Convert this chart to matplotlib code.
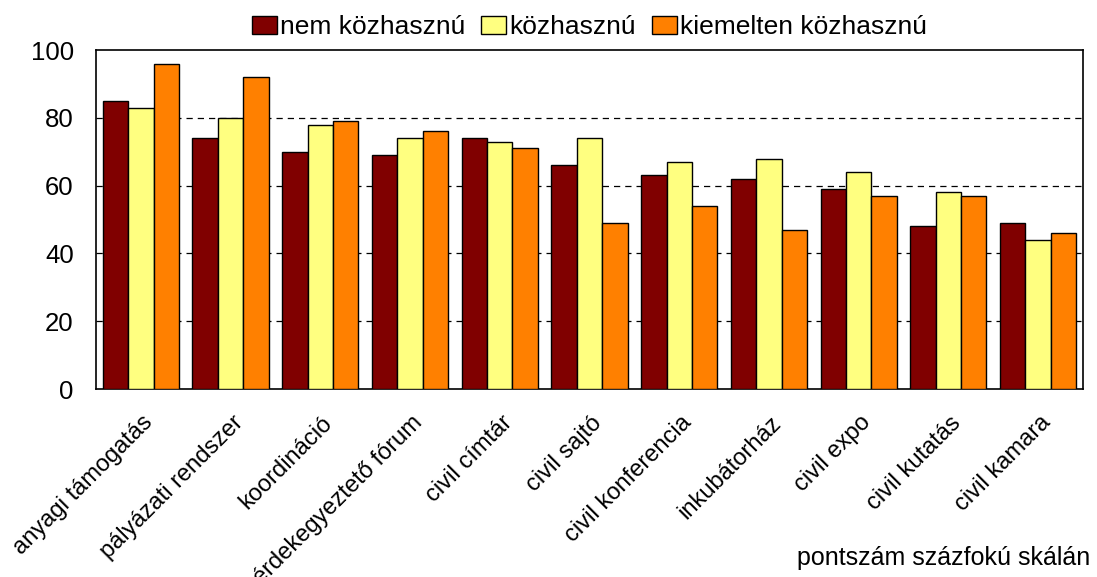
import matplotlib
matplotlib.use("Agg")
import matplotlib.pyplot as plt
import numpy as np

plt.rcParams["font.family"] = ["Liberation Sans", "DejaVu Sans"]

categories = ["anyagi támogatás", "pályázati rendszer", "koordináció",
              "érdekegyeztető fórum", "civil címtár", "civil sajtó",
              "civil konferencia", "inkubátorház", "civil expo",
              "civil kutatás", "civil kamara"]
nem_kozhasznu = [85, 74, 70, 69, 74, 66, 63, 62, 59, 48, 49]
kozhasznu = [83, 80, 78, 74, 73, 74, 67, 68, 64, 58, 44]
kiemelten = [96, 92, 79, 76, 71, 49, 54, 47, 57, 57, 46]
series_names = ["nem közhasznú", "közhasznú", "kiemelten közhasznú"]
colors = ["#800000", "#FFFF80", "#FF8000"]

fig = plt.figure(figsize=(10.97, 5.77), dpi=100)
ax = fig.add_axes([0.0875, 0.3258, 0.8997, 0.5875])

x = np.arange(len(categories))
w = 0.283
for i, (vals, name, c) in enumerate(zip([nem_kozhasznu, kozhasznu, kiemelten],
                                        series_names, colors)):
    ax.bar(x + (i - 1) * w, vals, width=w, color=c, edgecolor="black",
           linewidth=1.0, label=name, zorder=3)

ax.set_xlim(-0.5, len(categories) - 0.5)
ax.set_ylim(0, 100)
ax.set_yticks([0, 20, 40, 60, 80, 100])
ax.tick_params(axis="y", labelsize=18.5, length=0, pad=16)
for y in [20, 40, 60, 80]:
    ax.axhline(y, color="black", linestyle=(0, (5, 4)), linewidth=0.9, zorder=1)

ax.set_xticks(x + 0.1)
ax.set_xticklabels(categories, rotation=45, ha="right", va="center",
                   rotation_mode="anchor", fontsize=17)
ax.tick_params(axis="x", length=0, pad=22)
for s in ax.spines.values():
    s.set_linewidth(1.2)

ax.legend(loc="lower center", bbox_to_anchor=(0.5, 1.0), ncol=3, frameon=False,
          fontsize=19, handlelength=0.95, handleheight=0.7, handletextpad=0.12,
          columnspacing=0.6, borderaxespad=0.0)

fig.text(0.994, 0.033, "pontszám százfokú skálán", ha="right", va="center",
         fontsize=18)

fig.savefig("out.png", dpi=100)
